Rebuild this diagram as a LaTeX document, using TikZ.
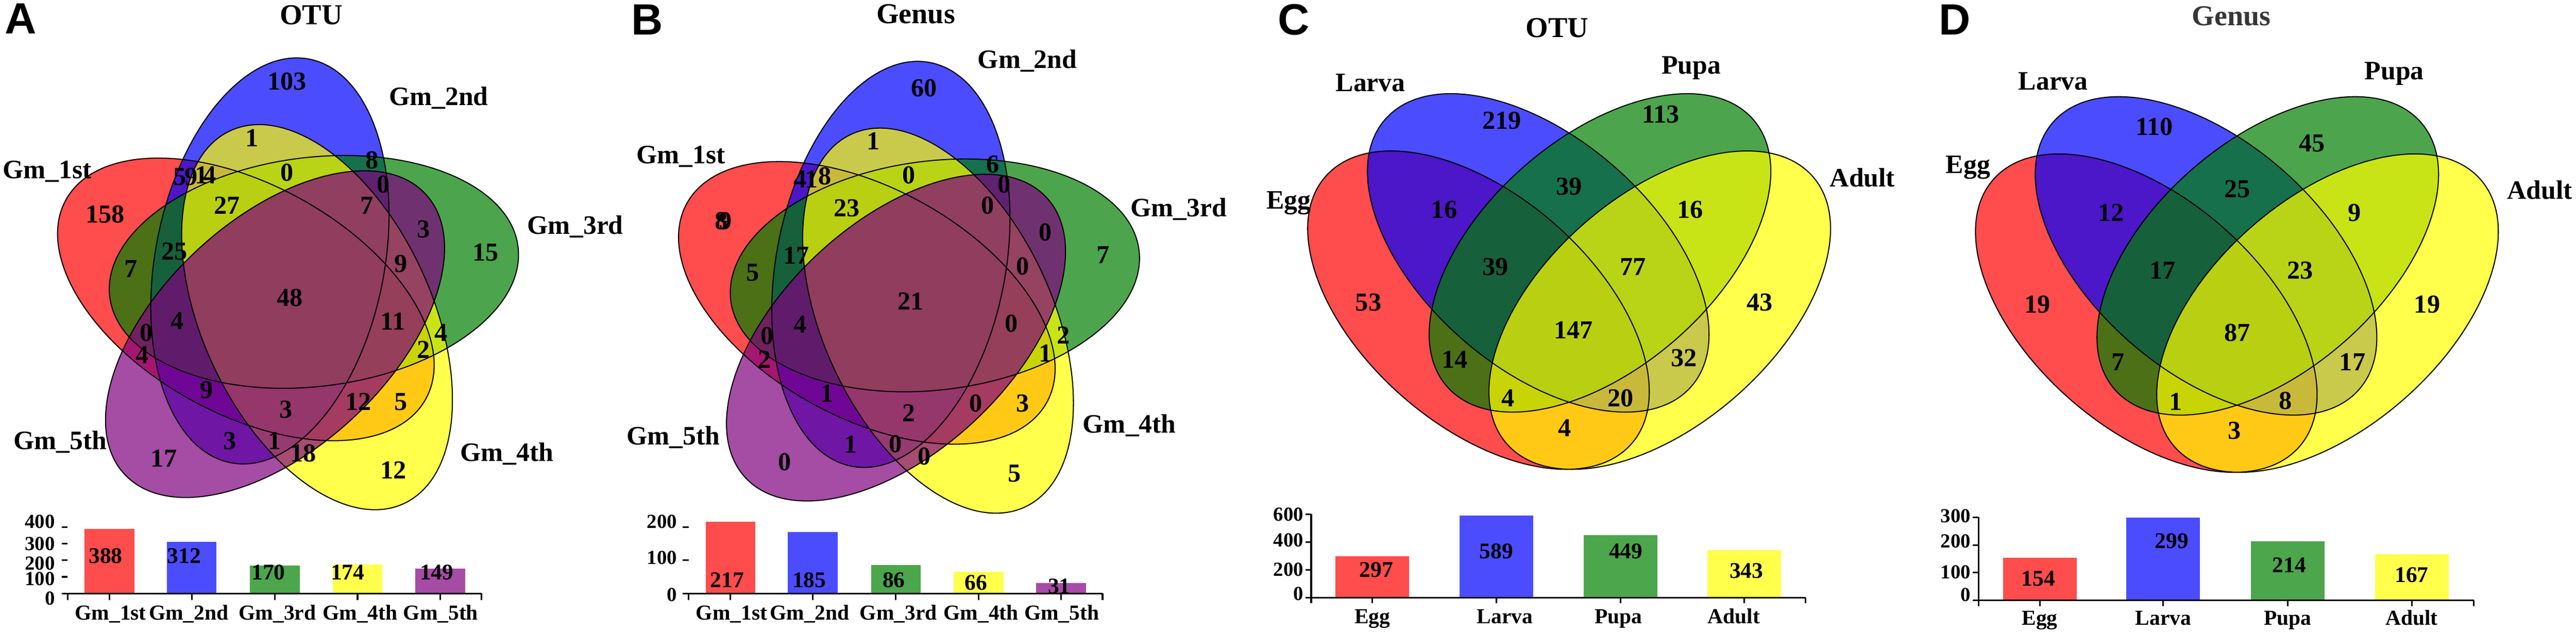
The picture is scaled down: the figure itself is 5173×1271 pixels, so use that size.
\documentclass[tikz,border=0pt]{standalone}
\usepackage{fontspec}
\setmainfont{Liberation Serif}
\newfontfamily\panelfont{Liberation Sans}
\definecolor{vred}{RGB}{255,0,0}
\definecolor{vblue}{RGB}{0,0,255}
\definecolor{vgreen}{RGB}{0,128,0}
\definecolor{vyellow}{RGB}{255,255,0}
\definecolor{vpurple}{RGB}{128,0,128}
\definecolor{ttlgray}{RGB}{55,55,55}
\newcommand\venfive[2]{%
 \begin{scope}[shift={(#1,#2)}]
  \foreach \dx/\dy/\r/\c in {-77.3/5.4/151/vred, -29/-71.9/79/vblue, 59.4/-49.8/7/vgreen, 65.7/41.1/-65/vyellow, -18.7/75.2/-137/vpurple}
   \fill[\c, fill opacity=0.7, shift={(\dx,\dy)}, rotate=\r] (0,0) ellipse [x radius=413, y radius=230];
  \foreach \dx/\dy/\r in {-77.3/5.4/151, -29/-71.9/79, 59.4/-49.8/7, 65.7/41.1/-65, -18.7/75.2/-137}
   \draw[vline, shift={(\dx,\dy)}, rotate=\r] (0,0) ellipse [x radius=413, y radius=230];
 \end{scope}}
\newcommand\venfour[2]{%
 \begin{scope}[shift={(#1,#2)}]
  \foreach \dx/\dy/\r/\c in {-182/623/-41.1/vred, -62/508/-41.1/vblue, 62/508/41.1/vgreen, 182/623/41.1/vyellow}
   \fill[\c, fill opacity=0.7, shift={(\dx,\dy)}, rotate=\r] (0,0) ellipse [x radius=408, y radius=231];
  \foreach \dx/\dy/\r in {-182/623/-41.1, -62/508/-41.1, 62/508/41.1, 182/623/41.1}
   \draw[vline, shift={(\dx,\dy)}, rotate=\r] (0,0) ellipse [x radius=408, y radius=231];
 \end{scope}}
\begin{document}
\begin{tikzpicture}[x=0.01cm,y=-0.01cm,
  num/.style={font=\bfseries\fontsize{14.8}{15}\selectfont, inner sep=0pt},
  cat/.style={font=\bfseries\fontsize{15.2}{16}\selectfont, inner sep=0pt, anchor=base},
  ttl/.style={font=\bfseries\fontsize{16.5}{17}\selectfont, inner sep=0pt},
  panel/.style={font=\panelfont\bfseries\fontsize{25}{25}\selectfont, inner sep=0pt},
  barnum/.style={font=\bfseries\fontsize{12.8}{13}\selectfont, inner sep=0pt},
  ylab/.style={font=\bfseries\fontsize{11.4}{12}\selectfont, inner sep=0pt, anchor=east},
  xlab/.style={font=\bfseries\fontsize{12.2}{13}\selectfont, inner sep=0pt, anchor=base},
  vline/.style={draw=black, line width=0.6pt},
  axis/.style={line width=0.9pt},
]
\useasboundingbox[fill=white] (0,0) rectangle (5173,1271);

% ---------------- Panel A ----------------
\node[panel] (pA) at (42,38) {A};
\node[ttl] (tA) at (625,30) {OTU};
\venfive{571}{596}
\node[cat] (cA1) at (95,358) {Gm\_1st};
\node[cat] (cA2) at (881,212) {Gm\_2nd};
\node[cat] (cA3) at (1155,470) {Gm\_3rd};
\node[cat] (cA4) at (1018,926) {Gm\_4th};
\node[cat] (cA5) at (121,903) {Gm\_5th};
\foreach \x/\y/\t [count=\k] in {211/430/158, 576/163/103, 506/277/1, 361/355/5, 384/355/9, 405/352/1, 421/352/4, 576/347/0, 456/413/27, 747/322/8, 770/370/0, 737/413/7, 263/540/7, 350/505/25, 582/598/48, 356/645/4, 294/668/0, 286/713/4, 415/783/9, 574/823/3, 851/460/3, 975/507/15, 805/530/9, 789/645/11, 886/668/4, 851/702/2, 720/807/12, 805/807/5, 461/886/3, 551/885/1, 609/910/18, 329/921/17, 790/944/12}
  \node[num] (nA\k) at (\x,\y) {\t};
% bar chart A
\foreach \c/\x/\v [count=\k] in {vred/220/388, vblue/385/312, vgreen/552/170, vyellow/718/174, vpurple/884/149}
  \fill[\c!70] ({\x-50},1192) rectangle ({\x+50},{1192-\v*0.3325});
\draw[axis] (136,1192) -- (967,1192);
\foreach \x in {136,220,385,552,718,884,967} \draw[axis] (\x,1192) -- (\x,1205);
\foreach \y in {1059,1092.25,1125.5,1158.75,1192} \draw[axis] (124,\y) -- (136,\y);
\foreach \y/\t [count=\k] in {1048/400, 1092/300, 1132/200, 1163/100, 1202/0}
  \node[ylab] (yA\k) at (111,\y) {\t};
\foreach \x/\y/\t [count=\k] in {212/1117/388, 370/1117/312, 539/1150/170, 698/1150/174, 877/1150/149}
  \node[barnum] (vA\k) at (\x,\y) {\t};
\foreach \x/\t [count=\k] in {222/Gm\_1st, 379/Gm\_2nd, 557/Gm\_3rd, 723/Gm\_4th, 885/Gm\_5th}
  \node[xlab] (xA\k) at (\x,1245) {\t};

% ---------------- Panel B ----------------
\node[panel] (pB) at (1300,40) {B};
\node[ttl] (tB) at (1839,28) {Genus};
\venfive{1818}{603}
\node[cat] (cB1) at (1367,328) {Gm\_1st};
\node[cat] (cB2) at (2063,137) {Gm\_2nd};
\node[cat] (cB3) at (2367,435) {Gm\_3rd};
\node[cat] (cB4) at (2268,870) {Gm\_4th};
\node[cat] (cB5) at (1352,893) {Gm\_5th};
\foreach \x/\y/\t [count=\k] in {1449/444/8, 1457/444/9, 1856/177/60, 1754/283/1, 1607/360/4, 1630/360/1, 1656/354/8, 1825/352/0, 1700/418/23, 1994/330/6, 2016/370/0, 1983/413/0, 1512/548/5, 1599/513/17, 1829/605/21, 1607/652/4, 1541/675/0, 1535/722/2, 1661/790/1, 1825/830/2, 2099/467/0, 2215/512/7, 2054/535/0, 2031/650/0, 2135/673/2, 2099/710/1, 1960/810/0, 2054/810/3, 1708/893/1, 1798/892/0, 1856/917/0, 1576/928/0, 2037/951/5}
  \node[num] (nB\k) at (\x,\y) {\t};
% bar chart B
\foreach \c/\x/\v [count=\k] in {vred/1467/217, vblue/1632/185, vgreen/1799/86, vyellow/1965/66, vpurple/2131/31}
  \fill[\c!70] ({\x-50},1192) rectangle ({\x+50},{1192-\v*0.665});
\draw[axis] (1383,1192) -- (2214,1192);
\foreach \x in {1383,1467,1632,1799,1965,2131,2214} \draw[axis] (\x,1192) -- (\x,1205);
\foreach \y in {1059,1125.5,1192} \draw[axis] (1371,\y) -- (1383,\y);
\foreach \y/\t [count=\k] in {1048/200, 1120/100, 1195/0}
  \node[ylab] (yB\k) at (1360,\y) {\t};
\foreach \x/\y/\t [count=\k] in {1460/1165/217, 1625/1165/185, 1795/1165/86, 1960/1170/66, 2127/1178/31}
  \node[barnum] (vB\k) at (\x,\y) {\t};
\foreach \x/\t [count=\k] in {1469/Gm\_1st, 1626/Gm\_2nd, 1804/Gm\_3rd, 1970/Gm\_4th, 2132/Gm\_5th}
  \node[xlab] (xB\k) at (\x,1245) {\t};

% ---------------- Panel C ----------------
\node[panel] (pC) at (2598,40) {C};
\node[ttl] (tC) at (3127,56) {OTU};
\venfour{3151}{0}
\node[cat] (cC1) at (2588,420) {Egg};
\node[cat] (cC2) at (2752,184) {Larva};
\node[cat] (cC3) at (3396,148) {Pupa};
\node[cat] (cC4) at (3740,375) {Adult};
\foreach \x/\y/\t [count=\k] in {3016/242/219, 3335/230/113, 3151/375/39, 2900/421/16, 3394/421/16, 3003/536/39, 3279/536/77, 2748/607/53, 3534/607/43, 3160/663/147, 2921/722/14, 3382/719/32, 3028/800/4, 3254/800/20, 3142/860/4}
  \node[num] (nC\k) at (\x,\y) {\t};
% bar chart C
\foreach \c/\x/\v [count=\k] in {vred/2756/297, vblue/3005/589, vgreen/3254/449, vyellow/3503/343}
  \fill[\c!70] ({\x-74},1201) rectangle ({\x+74},{1201-\v*0.28});
\draw[axis] (2633,1201) -- (3626,1201);
\draw[axis] (2633,1033) -- (2633,1212);
\foreach \x in {2633,2756,3005,3254,3503,3626} \draw[axis] (\x,1201) -- (\x,1212);
\foreach \y in {1033,1089,1145,1201} \draw[axis] (2622,\y) -- (2633,\y);
\foreach \y/\t [count=\k] in {1033/600, 1085/400, 1144/200, 1193/0}
  \node[ylab] (yC\k) at (2618,\y) {\t};
\foreach \x/\y/\t [count=\k] in {2764/1145/297, 3005/1107/589, 3265/1107/449, 3507/1147/343}
  \node[barnum] (vC\k) at (\x,\y) {\t};
\foreach \x/\t [count=\k] in {2756/Egg, 3022/Larva, 3250/Pupa, 3482/Adult}
  \node[xlab] (xC\k) at (\x,1252) {\t};

% ---------------- Panel D ----------------
\node[panel] (pD) at (3925,40) {D};
\node[ttl, text=ttlgray] (tD) at (4481,32) {Genus};
\venfour{4492}{6}
\node[cat] (cD1) at (3952,348) {Egg};
\node[cat] (cD2) at (4123,181) {Larva};
\node[cat] (cD3) at (4808,160) {Pupa};
\node[cat] (cD4) at (5100,400) {Adult};
\foreach \x/\y/\t [count=\k] in {4326/255/110, 4643/288/45, 4493/380/25, 4239/427/12, 4728/427/9, 4343/543/17, 4619/543/23, 4091/612/19, 4874/612/19, 4493/668/87, 4253/727/7, 4724/727/17, 4369/807/1, 4589/805/8, 4487/865/3}
  \node[num] (nD\k) at (\x,\y) {\t};
% bar chart D
\foreach \c/\x/\v [count=\k] in {vred/4096/154, vblue/4344/299, vgreen/4594/214, vyellow/4843/167}
  \fill[\c!70] ({\x-74},1206) rectangle ({\x+74},{1206-\v*0.5567});
\draw[axis] (3973,1206) -- (4968,1206);
\draw[axis] (3973,1039) -- (3973,1218);
\foreach \x in {3973,4096,4344,4594,4843,4968} \draw[axis] (\x,1206) -- (\x,1218);
\foreach \y in {1039,1094.7,1150.3,1206} \draw[axis] (3961,\y) -- (3973,\y);
\foreach \y/\t [count=\k] in {1036/300, 1087/200, 1149/100, 1195/0}
  \node[ylab] (yD\k) at (3958,\y) {\t};
\foreach \x/\y/\t [count=\k] in {4093/1162/154, 4361/1087/299, 4597/1135/214, 4843/1155/167}
  \node[barnum] (vD\k) at (\x,\y) {\t};
\foreach \x/\t [count=\k] in {4096/Egg, 4344/Larva, 4594/Pupa, 4843/Adult}
  \node[xlab] (xD\k) at (\x,1255) {\t};
\end{tikzpicture}
\end{document}
